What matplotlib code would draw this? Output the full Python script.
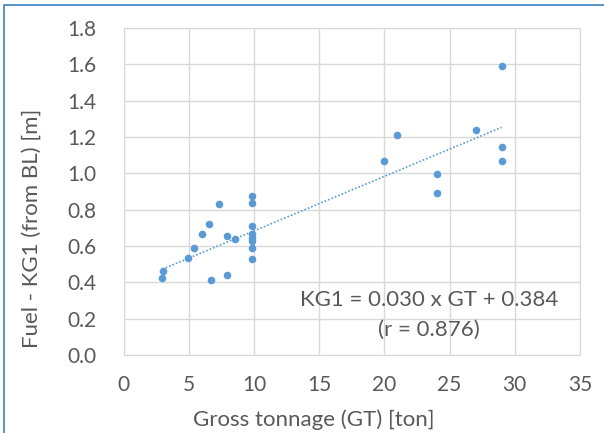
import numpy as np
import matplotlib
matplotlib.use('Agg')
import matplotlib.pyplot as plt
from matplotlib.patches import Rectangle

# data
gt = [29.0, 21.0, 27.0, 29.0, 29.0, 20.0, 24.0, 24.0,
      9.8, 9.8, 9.8, 9.8, 9.8, 9.8, 9.8, 9.8,
      3.0, 2.95, 4.9, 5.4, 6.0, 6.5, 7.3, 7.95, 8.55, 6.7, 7.95]
kg1 = [1.59, 1.21, 1.24, 1.145, 1.068, 1.068, 0.998, 0.892,
       0.874, 0.839, 0.711, 0.669, 0.644, 0.630, 0.588, 0.529,
       0.464, 0.422, 0.535, 0.592, 0.665, 0.723, 0.829, 0.658, 0.639, 0.413, 0.44]
slope, intercept = 0.030, 0.384
x_ticks = [0, 5, 10, 15, 20, 25, 30, 35]
y_ticks = [0.0, 0.2, 0.4, 0.6, 0.8, 1.0, 1.2, 1.4, 1.6, 1.8]

plt.rcParams['font.family'] = ['Lato', 'DejaVu Sans']
txt = '#595959'
grid = '#d9d9d9'
blue = '#5b9bd5'

fig = plt.figure(figsize=(6.04, 4.33), dpi=100)
ax = fig.add_axes([0.205, 0.180, 0.755, 0.755])

ax.scatter(gt, kg1, s=30, color=blue, zorder=3, linewidths=0)
xl = np.array([min(gt), max(gt)])
ax.plot(xl, slope * xl + intercept, ls=(0, (1, 1.2)), lw=1.2, color=blue, zorder=2)

ax.set_xlim(0, 35)
ax.set_ylim(0, 1.8)
ax.set_xticks(x_ticks)
ax.set_yticks(y_ticks)
ax.set_yticklabels([f'{v:.1f}' for v in y_ticks])
ax.grid(True, color=grid, lw=1)
ax.set_axisbelow(True)
for s in ax.spines.values():
    s.set_color(grid)
ax.tick_params(length=0, labelsize=15, colors=txt)
ax.tick_params(axis='y', pad=20)
ax.tick_params(axis='x', pad=14)

ax.set_xlabel('Gross tonnage (GT) [ton]', fontsize=16, color=txt)
ax.set_ylabel('Fuel - KG1 (from BL) [m]', fontsize=16, color=txt)
ax.xaxis.set_label_coords(0.416, -0.165)
ax.yaxis.set_label_coords(-0.18, 0.388)

ax.text(23.45, 0.303, f'KG1 = {slope:.3f} x GT + {intercept:.3f}', ha='center', va='center',
        fontsize=16, color=txt)
ax.text(23.45, 0.138, '(r = 0.876)', ha='center', va='center', fontsize=16, color=txt)

# outer chart frame
fig.patches.append(Rectangle((4 / 604, -0.05), 1.1, 1 - 5 / 433 + 0.05,
                             transform=fig.transFigure, fill=False,
                             edgecolor='#3f7fc0', lw=1.2))

fig.savefig('out.png', dpi=100)
